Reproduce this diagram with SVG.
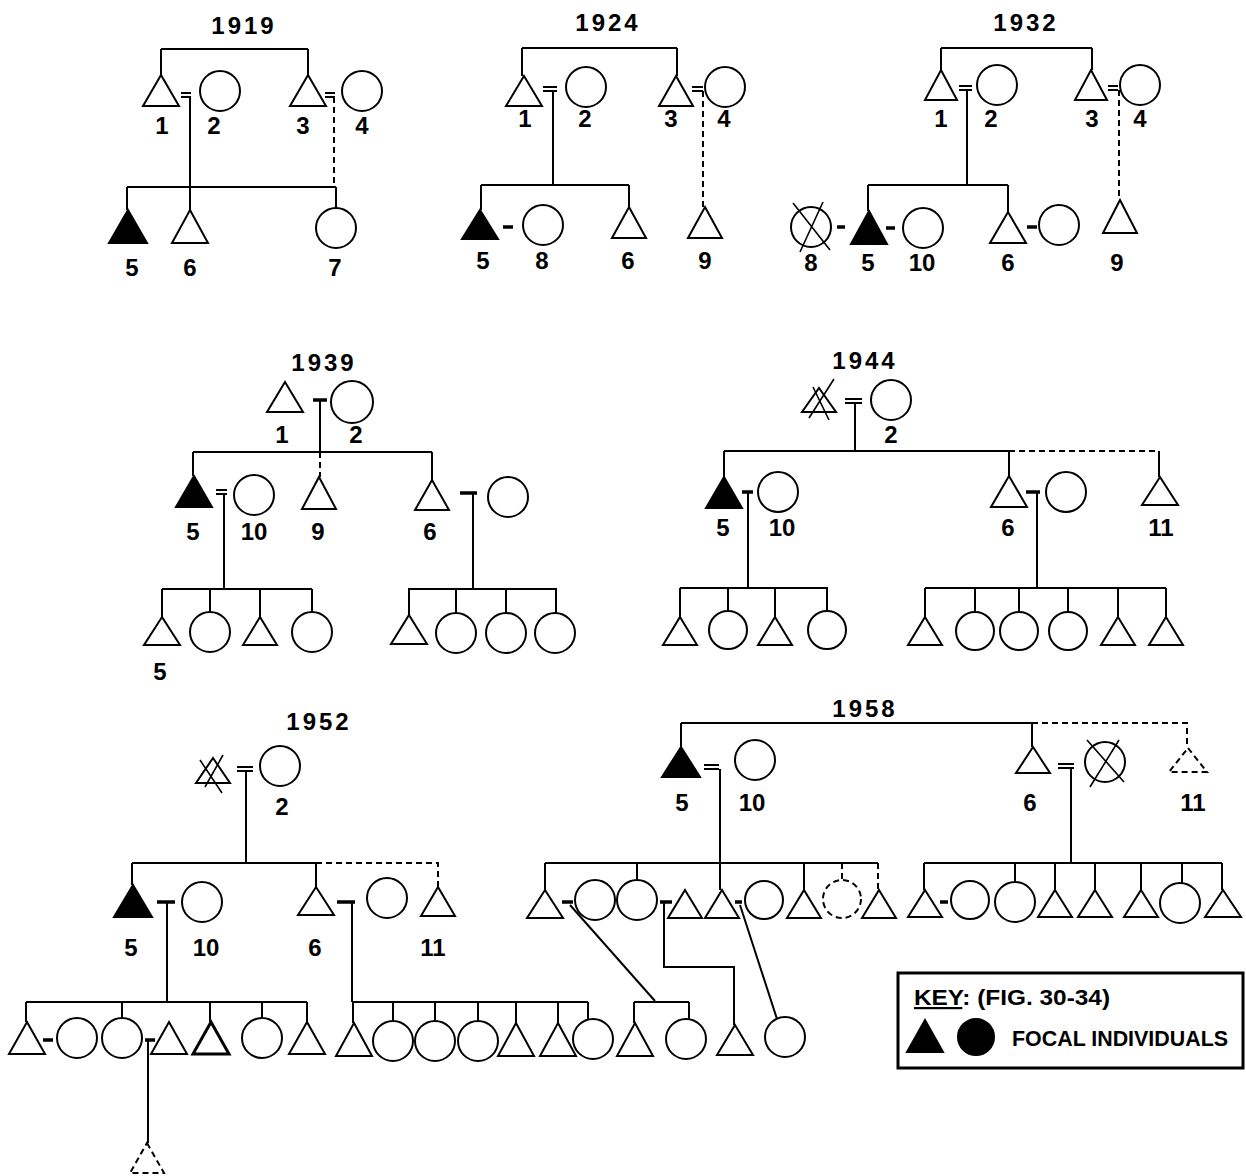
<svg xmlns="http://www.w3.org/2000/svg" width="1246" height="1176" viewBox="0 0 1246 1176">
<style>
.o{fill:#fff;stroke:#000;stroke-width:2}
.k{fill:#000;stroke:#000;stroke-width:2}
.ln{fill:none;stroke:#000;stroke-width:2}
.mb{fill:none;stroke:#000;stroke-width:3.5}
.ds{stroke-dasharray:6 4}
.x{stroke:#000;stroke-width:1.6;fill:none}
text{font-family:"Liberation Sans",Arial,sans-serif;font-weight:bold;fill:#000}
.lb{font-size:24px;text-anchor:middle}
.yr{font-size:24px;text-anchor:middle;letter-spacing:3px}
</style>
<rect width="1246" height="1176" fill="#fff"/>

<g id="connectors">
 <g id="c1919">
  <path class="ln" d="M161,49H308M161,49V75M308,49V75M181,93h10M181,97h10M190,97V187M325,93h10M325,97h10M127,187H336M127,187V210M190,187V210M336,187V208"/>
  <path class="ln ds" d="M334,97V187"/>
 </g>
 <g id="c1924">
  <path class="ln" d="M522,48H677M522,48V76M677,48V76M543,87h14M543,91h14M553,91V185M692,87h11M692,91h11M481,185H629M481,185V210M629,185V207"/>
  <path class="ln ds" d="M703,91V207"/>
  <path class="mb" d="M503,227h10"/>
 </g>
 <g id="c1932">
  <path class="ln" d="M941,48H1092M941,48V70M1092,48V70M959,86h13M959,90h13M967,90V185M1108,86h10M1108,90h10M868,185H1008M868,185V211M1008,185V212"/>
  <path class="ln ds" d="M1119,90V200"/>
  <path class="mb" d="M837,227h8M886,228h9M1027,227h10"/>
 </g>
 <g id="c1939">
  <path class="mb" d="M313,400h14M460,493h17"/>
  <path class="ln" d="M320,400V452M193,452H432M193,452V476M432,452V480M216,490h11M216,494h11M224,494V589M473,493V589M162,589H312M162,589V617M210,589V612M260,589V617M312,589V612M408,589H557M409,589V615M456,589V613M506,589V613M556,589V613"/>
  <path class="ln ds" d="M320,452V477"/>
 </g>
 <g id="c1944">
  <path class="ln" d="M845,399h17M845,403h17M855,403V451M724,451H1009M724,451V477M1009,451V476M1159,451V477M748,492V588M1037,492V588M680,588H828M680,588V617M728,588V611M775,588V617M827,588V611M925,588H1166M925,588V617M975,588V612M1019,588V612M1068,588V612M1118,588V617M1166,588V617"/>
  <path class="ln ds" d="M1009,451H1159"/>
  <path class="mb" d="M742,492h11M1026,492h14"/>
 </g>
 <g id="c1952">
  <path class="ln" d="M237,767h16M237,771h16M246,771V863M132,863H316M132,863V885M316,863V887M167,902V1002M352,902V1002M26,1002H307M26,1002V1022M122,1002V1018M210,1002V1022M262,1002V1018M307,1002V1022M148,1040V1143M353,1002H588M353,1002V1023M393,1002V1021M435,1002V1021M478,1002V1021M516,1002V1023M558,1002V1023M588,1002V1019"/>
  <path class="ln ds" d="M316,863H438V887"/>
  <path class="mb" d="M157,902h18M337,902h18M43,1040h10M145,1040h10"/>
 </g>
 <g id="c1958">
  <path class="ln" d="M681,723H1032M681,723V747M1032,723V747M704,765h15M704,769h15M720,769V890M1058,764h16M1058,768h16M1071,768V863M545,863H878M545,863V890M637,863V880M804,863V890M570,905L655,1001M664,902V967H734V1025M740,905L777,1019M634,1002H689M634,1002V1023M689,1002V1019M924,863H1222M924,863V890M1015,863V882M1055,863V890M1095,863V890M1141,863V890M1182,863V883M1222,863V890"/>
  <path class="ln ds" d="M1032,723H1187V748M842,863V880M878,863V890"/>
  <path class="mb" d="M562,902h11M660,902h12M735,902h7M940,902h8"/>
 </g>
</g>

<!-- 1919 -->
<g id="p1919">
 <text class="yr" x="244" y="34">1919</text>
 <g id="n19-1"><path class="o" d="M161,75l18,31h-36z"/><text class="lb" x="162" y="134">1</text></g>
 <g id="n19-2"><circle class="o" cx="220" cy="91" r="20"/><text class="lb" x="214" y="134">2</text></g>
 <g id="n19-3"><path class="o" d="M308,75l18,31h-36z"/><text class="lb" x="303" y="134">3</text></g>
 <g id="n19-4"><circle class="o" cx="362" cy="91" r="20"/><text class="lb" x="362" y="134">4</text></g>
 <g id="n19-5"><path class="k" d="M128,210l19,33h-38z"/><text class="lb" x="132" y="276">5</text></g>
 <g id="n19-6"><path class="o" d="M190,210l18,33h-36z"/><text class="lb" x="190" y="276">6</text></g>
 <g id="n19-7"><circle class="o" cx="336" cy="228" r="20"/><text class="lb" x="335" y="276">7</text></g>
</g>

<!-- 1924 -->
<g id="p1924">
 <text class="yr" x="608" y="31">1924</text>
 <g id="n24-1"><path class="o" d="M524,76l18,30h-36z"/><text class="lb" x="525" y="127">1</text></g>
 <g id="n24-2"><circle class="o" cx="586" cy="87" r="20"/><text class="lb" x="585" y="127">2</text></g>
 <g id="n24-3"><path class="o" d="M676,76l17,30h-34z"/><text class="lb" x="671" y="127">3</text></g>
 <g id="n24-4"><circle class="o" cx="725" cy="87" r="20"/><text class="lb" x="724" y="127">4</text></g>
 <g id="n24-5"><path class="k" d="M480,210l18,29h-36z"/><text class="lb" x="483" y="269">5</text></g>
 <g id="n24-8"><circle class="o" cx="543" cy="225" r="20"/><text class="lb" x="542" y="269">8</text></g>
 <g id="n24-6"><path class="o" d="M629,207l17,31h-34z"/><text class="lb" x="628" y="269">6</text></g>
 <g id="n24-9"><path class="o" d="M705,207l17,31h-34z"/><text class="lb" x="705" y="269">9</text></g>
</g>

<!-- 1932 -->
<g id="p1932">
 <text class="yr" x="1026" y="31">1932</text>
 <g id="n32-1"><path class="o" d="M941,70l16,30h-32z"/><text class="lb" x="941" y="127">1</text></g>
 <g id="n32-2"><circle class="o" cx="997" cy="85" r="20"/><text class="lb" x="991" y="127">2</text></g>
 <g id="n32-3"><path class="o" d="M1091,70l16,30h-32z"/><text class="lb" x="1092" y="127">3</text></g>
 <g id="n32-4"><circle class="o" cx="1140" cy="85" r="20"/><text class="lb" x="1140" y="127">4</text></g>
 <g id="n32-8"><circle class="o" cx="811" cy="227" r="20"/><path class="x" d="M793,203L830,250M823,202L800,252"/><text class="lb" x="811" y="271">8</text></g>
 <g id="n32-5"><path class="k" d="M869,211l18,33h-36z"/><text class="lb" x="868" y="271">5</text></g>
 <g id="n32-10"><circle class="o" cx="923" cy="228" r="20"/><text class="lb" x="922" y="271">10</text></g>
 <g id="n32-6"><path class="o" d="M1008,212l18,31h-36z"/><text class="lb" x="1008" y="271">6</text></g>
 <g id="n32-6w"><circle class="o" cx="1059" cy="225" r="20"/></g>
 <g id="n32-9"><path class="o" d="M1120,200l17,33h-34z"/><text class="lb" x="1117" y="271">9</text></g>
</g>

<!-- 1939 -->
<g id="p1939">
 <text class="yr" x="324" y="371">1939</text>
 <g id="n39-1"><path class="o" d="M285,382l18,30h-36z"/><text class="lb" x="282" y="443">1</text></g>
 <g id="n39-2"><circle class="o" cx="352" cy="402" r="21"/><text class="lb" x="356" y="443">2</text></g>
 <g id="n39-5"><path class="k" d="M194,476l18,31h-36z"/><text class="lb" x="193" y="540">5</text></g>
 <g id="n39-10"><circle class="o" cx="254" cy="495" r="20"/><text class="lb" x="254" y="540">10</text></g>
 <g id="n39-9"><path class="o" d="M319,477l17,32h-34z"/><text class="lb" x="318" y="540">9</text></g>
 <g id="n39-6"><path class="o" d="M432,480l17,30h-34z"/><text class="lb" x="430" y="540">6</text></g>
 <g id="n39-6w"><circle class="o" cx="508" cy="497" r="20"/></g>
 <g id="n39-a"><path class="o" d="M162,617l18,28h-36z"/><text class="lb" x="160" y="680">5</text></g>
 <g id="n39-b"><circle class="o" cx="210" cy="632" r="20"/></g>
 <g id="n39-c"><path class="o" d="M260,617l17,28h-34z"/></g>
 <g id="n39-d"><circle class="o" cx="312" cy="632" r="20"/></g>
 <g id="n39-e"><path class="o" d="M409,615l18,29h-36z"/></g>
 <g id="n39-f"><circle class="o" cx="456" cy="633" r="20"/></g>
 <g id="n39-g"><circle class="o" cx="506" cy="633" r="20"/></g>
 <g id="n39-h"><circle class="o" cx="555" cy="633" r="20"/></g>
</g>

<!-- 1944 -->
<g id="p1944">
 <text class="yr" x="865" y="369">1944</text>
 <g id="n44-1"><path class="o" d="M819,388l17,24h-34z"/><path class="x" d="M834,379L809,418M813,387L829,420"/></g>
 <g id="n44-2"><circle class="o" cx="891" cy="400" r="20"/><text class="lb" x="891" y="443">2</text></g>
 <g id="n44-5"><path class="k" d="M724,477l18,31h-36z"/><text class="lb" x="723" y="536">5</text></g>
 <g id="n44-10"><circle class="o" cx="778" cy="492" r="20"/><text class="lb" x="782" y="536">10</text></g>
 <g id="n44-6"><path class="o" d="M1009,476l18,31h-36z"/><text class="lb" x="1008" y="536">6</text></g>
 <g id="n44-6w"><circle class="o" cx="1066" cy="492" r="20"/></g>
 <g id="n44-11"><path class="o" d="M1160,477l18,28h-36z"/><text class="lb" x="1161" y="536">11</text></g>
 <g id="n44-a"><path class="o" d="M680,617l17,28h-34z"/></g>
 <g id="n44-b"><circle class="o" cx="728" cy="630" r="19"/></g>
 <g id="n44-c"><path class="o" d="M775,617l17,28h-34z"/></g>
 <g id="n44-d"><circle class="o" cx="827" cy="630" r="19"/></g>
 <g id="n44-e"><path class="o" d="M925,617l17,28h-34z"/></g>
 <g id="n44-f"><circle class="o" cx="975" cy="631" r="19"/></g>
 <g id="n44-g"><circle class="o" cx="1019" cy="631" r="19"/></g>
 <g id="n44-h"><circle class="o" cx="1068" cy="631" r="19"/></g>
 <g id="n44-i"><path class="o" d="M1118,617l17,28h-34z"/></g>
 <g id="n44-j"><path class="o" d="M1166,617l17,28h-34z"/></g>
</g>

<!-- 1952 -->
<g id="p1952">
 <text class="yr" x="319" y="730">1952</text>
 <g id="n52-1"><path class="o" d="M213,758l17,25h-34z"/><path class="x" d="M223,755L205,787M200,760L222,793"/></g>
 <g id="n52-2"><circle class="o" cx="280" cy="766" r="20"/><text class="lb" x="282" y="815">2</text></g>
 <g id="n52-5"><path class="k" d="M133,885l19,32h-38z"/><text class="lb" x="131" y="956">5</text></g>
 <g id="n52-10"><circle class="o" cx="202" cy="902" r="20"/><text class="lb" x="206" y="956">10</text></g>
 <g id="n52-6"><path class="o" d="M316,887l18,28h-36z"/><text class="lb" x="315" y="956">6</text></g>
 <g id="n52-6w"><circle class="o" cx="387" cy="898" r="20"/></g>
 <g id="n52-11"><path class="o" d="M438,887l17,29h-34z"/><text class="lb" x="433" y="956">11</text></g>
 <g id="n52-a"><path class="o" d="M27,1022l18,32h-36z"/></g>
 <g id="n52-b"><circle class="o" cx="77" cy="1038" r="20"/></g>
 <g id="n52-c"><circle class="o" cx="122" cy="1038" r="20"/></g>
 <g id="n52-d"><path class="o" d="M169,1022l18,32h-36z"/></g>
 <g id="n52-e"><path class="o" style="stroke-width:3" d="M211,1022l18,32h-36z"/></g>
 <g id="n52-f"><circle class="o" cx="262" cy="1038" r="20"/></g>
 <g id="n52-g"><path class="o" d="M307,1022l18,32h-36z"/></g>
 <g id="n52-h"><path class="o ds" d="M147,1143l17,30h-34z"/></g>
 <g id="n52-i"><path class="o" d="M354,1023l18,33h-36z"/></g>
 <g id="n52-j"><circle class="o" cx="393" cy="1041" r="20"/></g>
 <g id="n52-k"><circle class="o" cx="435" cy="1041" r="20"/></g>
 <g id="n52-l"><circle class="o" cx="478" cy="1041" r="20"/></g>
 <g id="n52-m"><path class="o" d="M516,1023l18,33h-36z"/></g>
 <g id="n52-n"><path class="o" d="M558,1023l18,33h-36z"/></g>
 <g id="n52-o"><circle class="o" cx="593" cy="1039" r="20"/></g>
</g>

<!-- 1958 -->
<g id="p1958">
 <text class="yr" x="865" y="717">1958</text>
 <g id="n58-5"><path class="k" d="M681,747l19,30h-38z"/><text class="lb" x="682" y="811">5</text></g>
 <g id="n58-10"><circle class="o" cx="755" cy="760" r="20"/><text class="lb" x="752" y="811">10</text></g>
 <g id="n58-6"><path class="o" d="M1033,747l17,26h-34z"/><text class="lb" x="1030" y="811">6</text></g>
 <g id="n58-6w"><circle class="o" cx="1105" cy="762" r="20"/><path class="x" d="M1087,740L1124,782M1119,740L1090,787"/></g>
 <g id="n58-11"><path class="o ds" d="M1188,748l19,24h-38z"/><text class="lb" x="1193" y="811">11</text></g>
 <g id="n58-a"><path class="o" d="M545,890l18,28h-36z"/></g>
 <g id="n58-b"><circle class="o" cx="595" cy="900" r="20"/></g>
 <g id="n58-c"><circle class="o" cx="637" cy="900" r="20"/></g>
 <g id="n58-d"><path class="o" d="M685,890l17,28h-34z"/></g>
 <g id="n58-e"><path class="o" d="M722,890l17,28h-34z"/></g>
 <g id="n58-f"><circle class="o" cx="764" cy="900" r="19"/></g>
 <g id="n58-g"><path class="o" d="M804,890l17,28h-34z"/></g>
 <g id="n58-h"><circle class="o ds" cx="842" cy="899" r="19"/></g>
 <g id="n58-i"><path class="o" d="M879,890l17,28h-34z"/></g>
 <g id="n58-j"><path class="o" d="M635,1023l18,33h-36z"/></g>
 <g id="n58-k"><circle class="o" cx="686" cy="1039" r="20"/></g>
 <g id="n58-l"><path class="o" d="M735,1025l18,30h-36z"/></g>
 <g id="n58-m"><circle class="o" cx="785" cy="1037" r="20"/></g>
 <g id="n58-n"><path class="o" d="M925,890l17,27h-34z"/></g>
 <g id="n58-o"><circle class="o" cx="970" cy="900" r="19"/></g>
 <g id="n58-p"><circle class="o" cx="1015" cy="902" r="20"/></g>
 <g id="n58-q"><path class="o" d="M1055,890l17,27h-34z"/></g>
 <g id="n58-r"><path class="o" d="M1095,890l17,27h-34z"/></g>
 <g id="n58-s"><path class="o" d="M1141,890l17,27h-34z"/></g>
 <g id="n58-t"><circle class="o" cx="1180" cy="903" r="20"/></g>
 <g id="n58-u"><path class="o" d="M1223,890l18,27h-36z"/></g>
</g>

<!-- Key -->
<g id="key">
 <rect x="898" y="973" width="345" height="95" fill="#fff" stroke="#000" stroke-width="3"/>
 <text x="914" y="1005" font-size="22" textLength="196" lengthAdjust="spacingAndGlyphs"><tspan text-decoration="underline">KEY</tspan>: (FIG. 30-34)</text>
 <path class="k" d="M925,1020l18,32h-36z"/>
 <circle class="k" cx="976" cy="1037" r="18"/>
 <text x="1012" y="1046" font-size="22" textLength="216" lengthAdjust="spacingAndGlyphs">FOCAL INDIVIDUALS</text>
</g>
</svg>
